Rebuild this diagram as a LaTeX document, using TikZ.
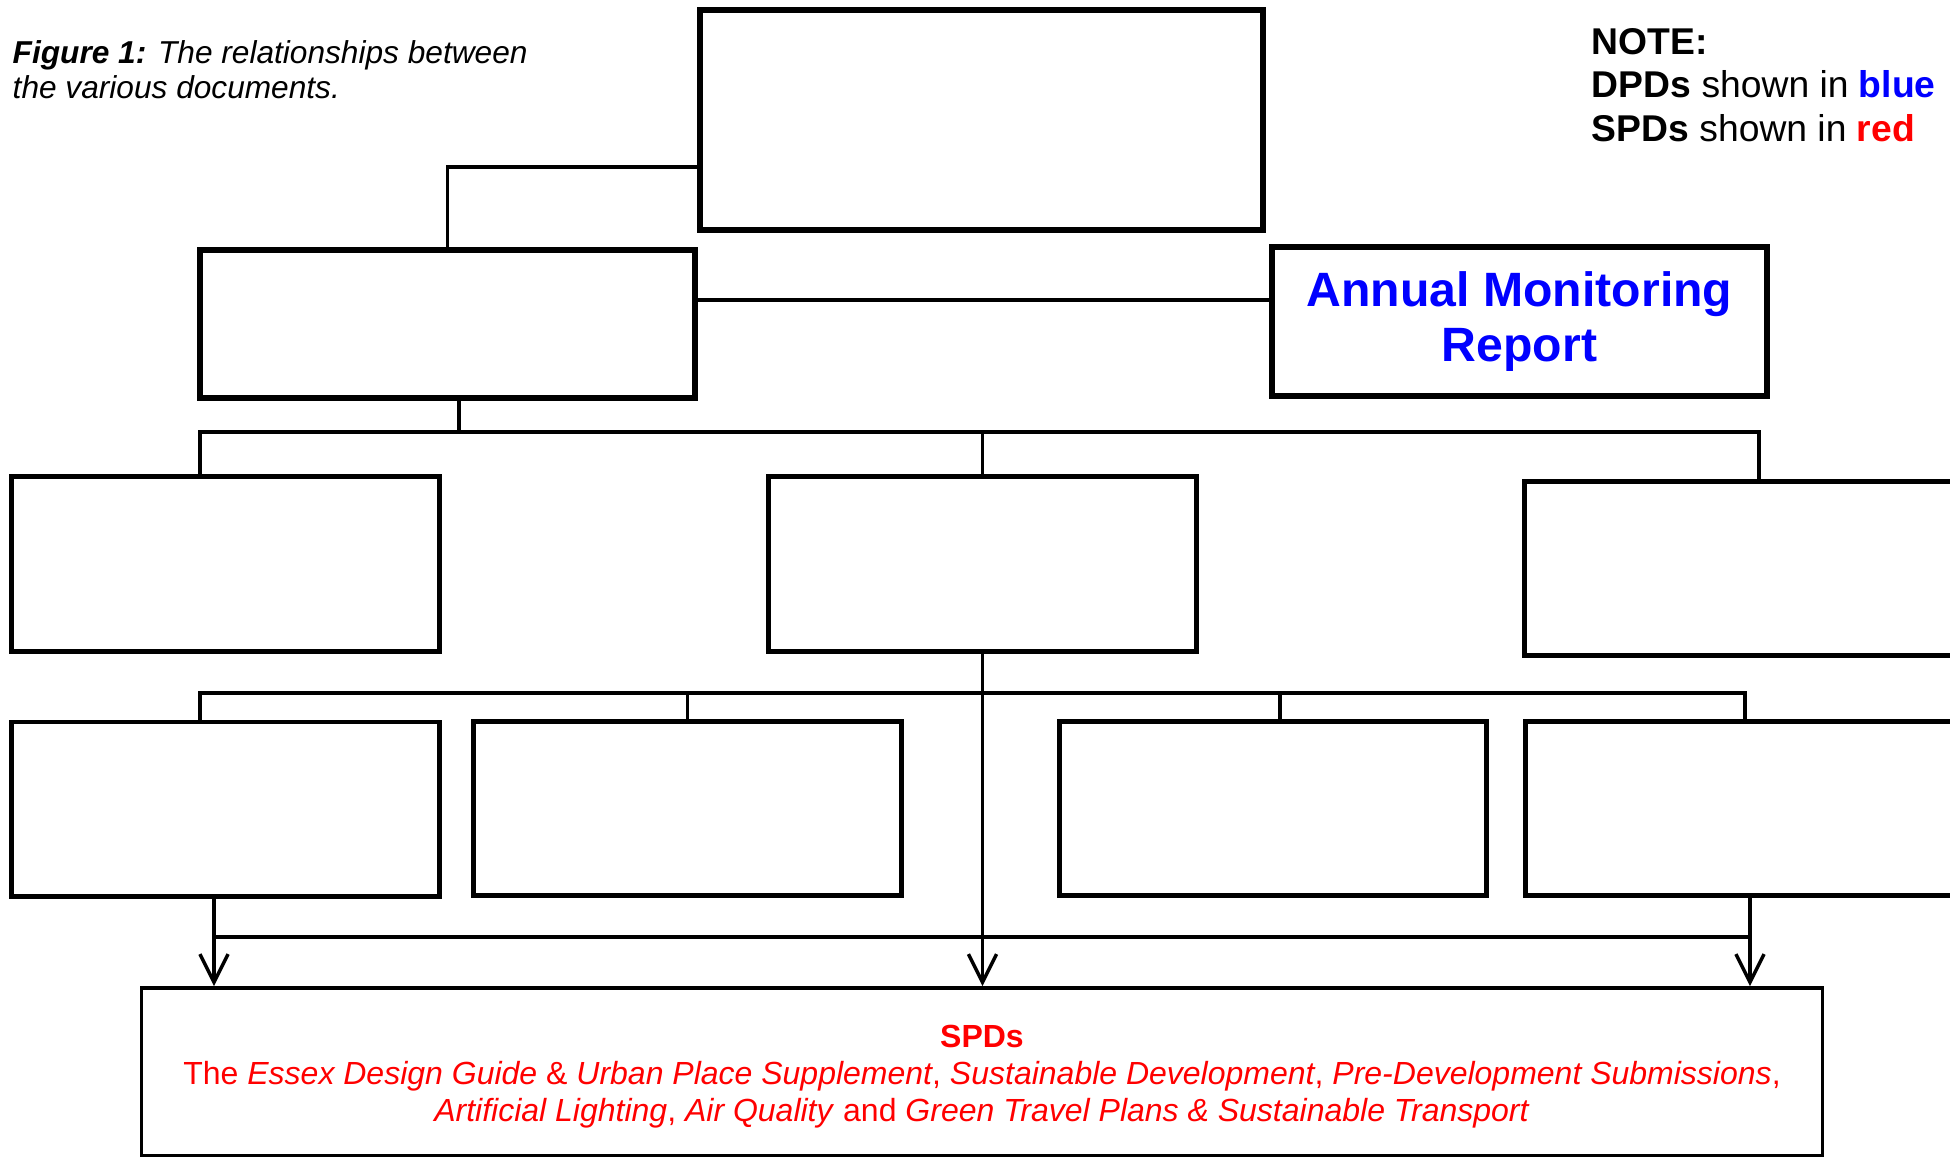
\documentclass[tikz,border=0pt]{standalone}
\usepackage{fontspec}
\setmainfont{Liberation Sans}
\usetikzlibrary{positioning,arrows.meta}
\tikzset{
bigbox/.style={
draw,
line width=1.7pt,
minimum width=4.95cm,minimum height=1.48cm,align=center},
box/.style={
draw,
line width=1.4pt,
minimum width=4.27cm,minimum height=1.74cm},
spdbox/.style={
draw,
line width=1pt,
minimum width=16.8cm,minimum height=1.68cm,align=center},
line/.style={line width=1pt},
arrow/.style={line width=1pt,-{Straight Barb[length=8pt,width=8pt]}},
font={\fontsize{8pt}{10pt}\selectfont}
}

\begin{document}
\begin{tikzpicture}[x=0.01cm,y=-0.01cm]
  \useasboundingbox (0,0) rectangle (1950,1157);
  \clip (0,0) rectangle (1950,1157);
  \node[bigbox, minimum width=5.63cm, minimum height=2.2cm] (top) at (981.5,120) {};
  \node[bigbox] (mid) at (447.5,324) {};
  \node[bigbox, text=blue, font={\fontsize{13.7pt}{15.6pt}\selectfont\bfseries}] (amr) at (1519.5,321.5) {Annual Monitoring\\Report};
  \node[box] (a) at (225.5,564) {};
  \node[box] (b) at (982.5,564) {};
  \node[box, minimum width=4.3cm] (c) at (1740,568.5) {};
  \node[box, below=0.66cm of a] (d) {};
  \node[box] (e) at (687.5,808.5) {};
  \node[box] (f) at (1273,808.5) {};
  \node[box, minimum width=4.3cm] (g) at (1741,808.5) {};
  \node[spdbox, text=red, font={\fontsize{9.1pt}{10.6pt}\selectfont}] (spd) at (982,1072)
    {\rule{0pt}{8.9pt}\textbf{SPDs}\\The \textit{Essex Design Guide} \& \textit{Urban Place Supplement}, \textit{Sustainable Development}, \textit{Pre-Development Submissions},\\\textit{Artificial Lighting}, \textit{Air Quality} and \textit{Green Travel Plans \& Sustainable Transport}};
  % caption and note
  \node[anchor=north west, align=left, inner sep=0pt, font={\fontsize{9pt}{10pt}\selectfont\itshape}] (caption) at (12,40) {\textbf{Figure 1:} The relationships between\\the various documents.};
  \node[anchor=north west, align=left, inner sep=0pt, font={\fontsize{10.6pt}{12.3pt}\selectfont}] (note) at (1591,28) {\textbf{NOTE:}\\\textbf{DPDs} shown in \textcolor{blue}{\textbf{blue}}\\\textbf{SPDs} shown in \textcolor{red}{\textbf{red}}};
  % upper links
  \draw[line] ([yshift=-0.47cm]top.west) -| (mid.north);
  \draw[line] ([yshift=0.24cm]mid.east) -- ([yshift=0.24cm]mid.east -| amr.west);
  \coordinate (bus1) at (459,432);
  \draw[line] (mid.south -| bus1) -- (bus1);
  \draw[line] ([xshift=-0.255cm]a.north) |- (bus1) -| ([xshift=0.19cm]c.north);
  \draw[line] (bus1 -| b.north) -- (b.north);
  % lower links
  \coordinate (bus2) at (982.5,693);
  \draw[line] ([xshift=-0.255cm]d.north) |- (bus2) -| ([xshift=0.04cm]g.north);
  \draw[line] (bus2 -| e.north) -- (e.north);
  \draw[line] ([xshift=0.07cm]f.north) -- ([xshift=0.07cm]f.north |- bus2);
  \draw[arrow] (b.south) -- (b.south |- spd.north);
  \coordinate (bus3) at (982.5,937);
  \draw[arrow] ([xshift=-0.115cm]d.south) -- ([xshift=-0.115cm]d.south |- spd.north);
  \draw[arrow] ([xshift=0.09cm]g.south) -- ([xshift=0.09cm]g.south |- spd.north);
  \draw[line] ([xshift=-0.115cm]d.south |- bus3) -- ([xshift=0.09cm]g.south |- bus3);
\end{tikzpicture}
\end{document}
